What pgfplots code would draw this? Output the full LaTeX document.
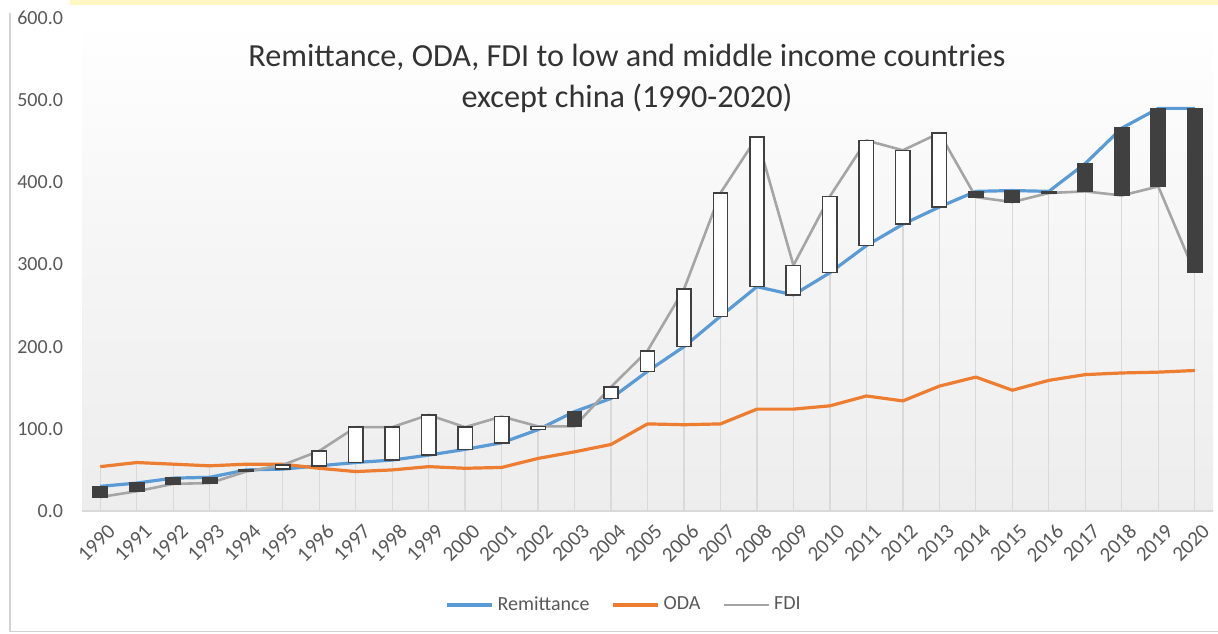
\documentclass[border=0pt]{standalone}
\usepackage{pgfplots}
\pgfplotsset{compat=1.18}
\usepackage{pgfplotstable}
\usepackage{fontspec}
\setmainfont{Carlito}
\definecolor{remb}{HTML}{5B9BD5}
\definecolor{odao}{HTML}{ED7D31}
\definecolor{fdig}{HTML}{A5A5A5}
\definecolor{boxdark}{HTML}{404040}
\definecolor{boxedge}{HTML}{404040}
\definecolor{dropg}{HTML}{D9D9D9}
\definecolor{ticktext}{HTML}{595959}
\definecolor{stripy}{HTML}{FFF7C2}
\definecolor{titlec}{HTML}{333333}

\pgfplotstableread{
year rem oda fdi
1990 30 54 17
1991 34 59 24
1992 40 57 33
1993 41 55 34
1994 50 57 48
1995 51 57 56
1996 55 52 73
1997 59 48 102
1998 62 50 102
1999 68 54 117
2000 75 52 102
2001 83 53 115
2002 99 64 103
2003 121 72 103
2004 137 81 151
2005 170 106 195
2006 200 105 270
2007 237 106 387
2008 273 124 455
2009 263 124 299
2010 290 128 383
2011 323 140 451
2012 349 134 439
2013 370 152 460
2014 389 163 382
2015 390 147 376
2016 389 159 387
2017 423 166 389
2018 466 168 384
2019 490 169 395
2020 490 171 290
}\data

\begin{document}
\begin{tikzpicture}
\useasboundingbox (0,0) rectangle (609pt,316.5pt);
\fill[white] (0,0) rectangle (609pt,316.5pt);
\fill[stripy] (35pt,314pt) rectangle (609pt,316.5pt);
\draw[gray!35, line width=0.6pt] (5pt,310pt) -- (5pt,0.7pt) -- (609pt,0.7pt);
\begin{axis}[
  at={(41pt,61pt)}, anchor=south west,
  scale only axis, width=565.5pt, height=246.5pt,
  xmin=1989.5, xmax=2020.5, ymin=0, ymax=600,
  xtick={1990,...,2020}, ytick={0,100,...,600},
  axis lines*=left,
  x axis line style={-, draw=dropg, line width=0.8pt},
  y axis line style={draw=none},
  major tick length=0pt,
  axis background/.style={shade, top color=white, bottom color=black!7, middle color=black!4},
  ticklabel style={font=\fontsize{10}{12}\selectfont, text=ticktext},
  /pgf/number format/assume math mode=true,
  xticklabel style={font=\fontsize{10.5}{12}\selectfont, rotate=45, anchor=east, xshift=1.5pt, yshift=-10pt, /pgf/number format/1000 sep={}},
  yticklabel style={xshift=-6pt, /pgf/number format/.cd, fixed, fixed zerofill, precision=1, 1000 sep={}},
  legend columns=3,
  legend style={at={(0.4801,-0.1906)}, anchor=center, draw=none, fill=none,
    font=\fontsize{10}{12}\selectfont, text=ticktext,
    /tikz/every even column/.append style={column sep=9pt}},
  legend image code/.code={\draw[#1] (0pt,0pt) -- (22.5pt,0pt);},
]
\addplot[ycomb, draw=dropg, line width=0.6pt, forget plot] table[x=year,y=fdi] {\data};
\addplot[ycomb, draw=dropg, line width=0.6pt, forget plot] table[x=year,y=rem] {\data};
\addplot[ycomb, draw=dropg, line width=0.6pt, forget plot] table[x=year,y=oda] {\data};
\addplot[remb, line width=1.6pt, line join=round] table[x=year,y=rem] {\data};
\addlegendentry{Remittance}
\addplot[odao, line width=1.6pt, line join=round] table[x=year,y=oda] {\data};
\addlegendentry{ODA}
\addplot[fdig, line width=1.3pt, line join=round] table[x=year,y=fdi] {\data};
\addlegendentry{FDI}
\end{axis}
\begin{axis}[
  at={(41pt,61pt)}, anchor=south west,
  scale only axis, width=565.5pt, height=246.5pt,
  xmin=1989.5, xmax=2020.5, ymin=0, ymax=600,
  hide axis, ybar stacked, bar width=7.2pt,
]
\addplot[draw=none, fill=none] table[x=year, y expr={min(\thisrow{rem},\thisrow{fdi})}] {\data};
\addplot[fill=white, draw=boxedge, line width=0.75pt] table[x=year, y expr={max(\thisrow{fdi}-\thisrow{rem},0)}] {\data};
\addplot[fill=boxdark, draw=boxedge, line width=0.75pt] table[x=year, y expr={max(\thisrow{rem}-\thisrow{fdi},0)}] {\data};
\end{axis}
\node[align=center, text=titlec, font=\fontsize{16.1}{20.5}\selectfont] at (313.5pt,277.5pt)
  {Remittance, ODA, FDI to low and middle income countries\\except china (1990-2020)};
\end{tikzpicture}
\end{document}
